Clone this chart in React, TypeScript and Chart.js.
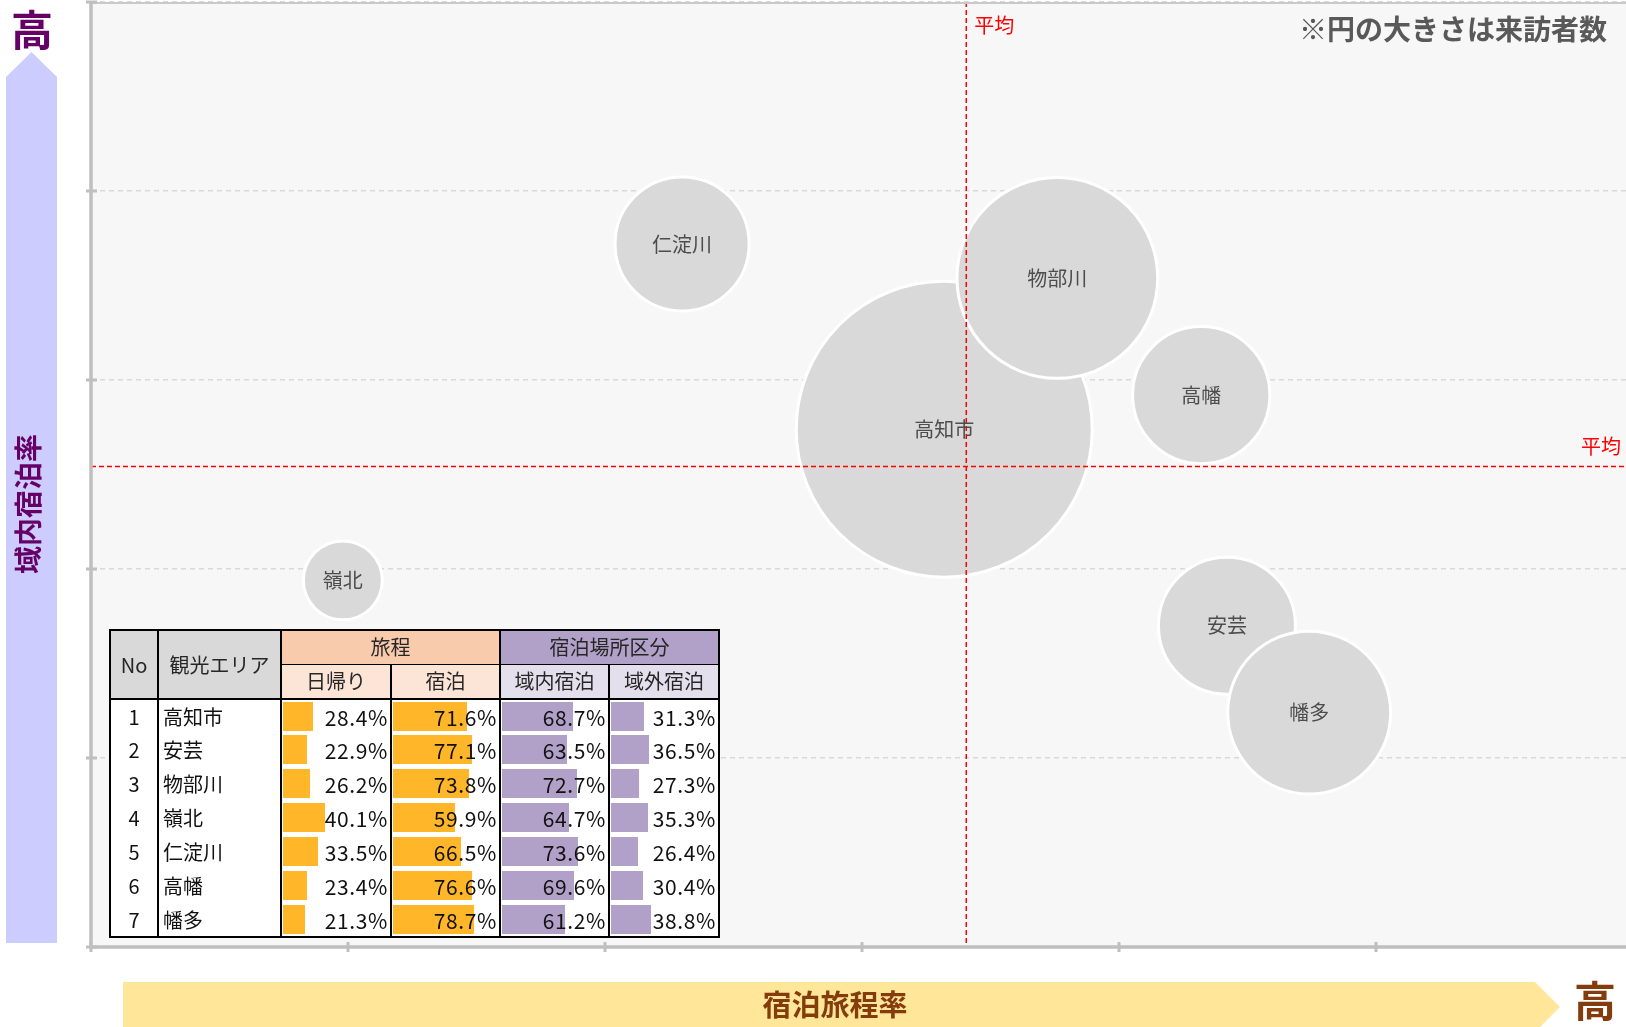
import React, { useEffect, useRef } from "react";
import { Chart, registerables } from "chart.js";

Chart.register(...registerables);

// ---- data ----
const areaNames = ["高知市", "安芸", "物部川", "嶺北", "仁淀川", "高幡", "幡多"];
const dayTripRate = [28.4, 22.9, 26.2, 40.1, 33.5, 23.4, 21.3]; // 日帰り
const stayRate = [71.6, 77.1, 73.8, 59.9, 66.5, 76.6, 78.7]; // 宿泊 (x)
const inAreaStayRate = [68.7, 63.5, 72.7, 64.7, 73.6, 69.6, 61.2]; // 域内宿泊 (y)
const outAreaStayRate = [31.3, 36.5, 27.3, 35.3, 26.4, 30.4, 38.8]; // 域外宿泊
const visitorIndex = [100, 21.4, 46, 7.1, 20.5, 21.5, 30.3]; // 来訪者数 (高知市=100)

const xTicks = [55, 60, 65, 70, 75, 80, 85];
const yTicks = [55, 60, 65, 70, 75, 80];

const FONT = "'Noto Sans CJK JP', 'Noto Sans', sans-serif";
const BUBBLE_SCALE = 14.8;

const mean = (a: number[]) => a.reduce((s, v) => s + v, 0) / a.length;
const avgX = mean(stayRate);
const avgY = mean(inAreaStayRate);

const decorPlugin = {
  id: "decor",
  beforeDraw(chart: any) {
    const { ctx, chartArea: a } = chart;
    ctx.save();
    ctx.fillStyle = "#f7f7f7";
    ctx.fillRect(a.left, a.top, a.right - a.left, a.bottom - a.top);
    ctx.restore();
  },
  afterDatasetsDraw(chart: any) {
    const { ctx, chartArea: a, scales } = chart;
    const x = scales.x;
    const y = scales.y;
    const ax = x.getPixelForValue(avgX);
    const ay = y.getPixelForValue(avgY);
    ctx.save();
    // average lines
    ctx.strokeStyle = "#ff0000";
    ctx.lineWidth = 1.5;
    ctx.setLineDash([5, 3]);
    ctx.beginPath();
    ctx.moveTo(ax, a.top);
    ctx.lineTo(ax, a.bottom - 4);
    ctx.moveTo(a.left, ay);
    ctx.lineTo(a.right, ay);
    ctx.stroke();
    ctx.setLineDash([]);
    // bubble labels
    const meta = chart.getDatasetMeta(0);
    ctx.fillStyle = "#4d4d4d";
    ctx.font = `20px ${FONT}`;
    ctx.textAlign = "center";
    ctx.textBaseline = "middle";
    meta.data.forEach((el: any, i: number) => {
      ctx.fillText(areaNames[i], el.x, el.y);
    });
    // average labels
    ctx.fillStyle = "#ff0000";
    ctx.font = `20px ${FONT}`;
    ctx.textAlign = "left";
    ctx.fillText("平均", ax + 8, a.top + 23);
    ctx.textAlign = "right";
    ctx.fillText("平均", a.right - 12, ay - 20);
    ctx.restore();
  },
  afterDraw(chart: any) {
    const { ctx, chartArea: a, scales } = chart;
    const x = scales.x;
    const y = scales.y;
    ctx.save();
    ctx.strokeStyle = "#c9c9c9";
    ctx.lineWidth = 2;
    ctx.beginPath();
    ctx.moveTo(a.left, a.top + 1);
    ctx.lineTo(a.right, a.top + 1);
    ctx.stroke();
    ctx.strokeStyle = "#bfbfbf";
    ctx.lineWidth = 3.5;
    ctx.beginPath();
    ctx.moveTo(a.left, a.top);
    ctx.lineTo(a.left, a.bottom + 1.5);
    ctx.moveTo(a.left - 1.5, a.bottom);
    ctx.lineTo(a.right, a.bottom);
    ctx.stroke();
    ctx.lineWidth = 3;
    ctx.beginPath();
    yTicks.forEach((v) => {
      const py = y.getPixelForValue(v);
      ctx.moveTo(a.left - 5, py);
      ctx.lineTo(a.left + 6, py);
    });
    xTicks.forEach((v) => {
      const px = x.getPixelForValue(v);
      ctx.moveTo(px, a.bottom - 5);
      ctx.lineTo(px, a.bottom + 5);
    });
    ctx.stroke();
    ctx.restore();
  },
};

const thBase: React.CSSProperties = {
  border: "2px solid #000",
  padding: 0,
  fontWeight: "normal",
  fontSize: 20,
  color: "#262626",
  textAlign: "center",
  verticalAlign: "middle",
  lineHeight: "22px",
};

const tdBase: React.CSSProperties = {
  borderLeft: "2px solid #000",
  borderRight: "2px solid #000",
  borderTop: "none",
  borderBottom: "none",
  padding: 0,
  height: 33,
  fontSize: 20,
  color: "#111",
  verticalAlign: "middle",
  lineHeight: "22px",
  background: "#fff",
};

function BarCell({ v, color }: { v: number; color: string }) {
  return (
    <td style={{ ...tdBase, position: "relative" }}>
      <div
        style={{
          position: "absolute",
          left: 1,
          top: 2,
          height: 29,
          width: `calc((100% - 4px) * ${v / 100})`,
          background: color,
        }}
      />
      <span
        style={{
          position: "relative",
          display: "block",
          textAlign: "right",
          paddingRight: 2,
          fontSize: 21,
          letterSpacing: 0.6,
        }}
      >
        {v.toFixed(1)}%
      </span>
    </td>
  );
}

export default function App() {
  const canvasRef = useRef<HTMLCanvasElement | null>(null);

  useEffect(() => {
    if (!canvasRef.current) return;
    const chart = new Chart(canvasRef.current, {
      type: "bubble",
      data: {
        datasets: [
          {
            label: "来訪者数",
            data: areaNames.map((_, i) => ({
              x: stayRate[i],
              y: inAreaStayRate[i],
              r: BUBBLE_SCALE * Math.sqrt(visitorIndex[i]),
            })),
            backgroundColor: "#d9d9d9",
            borderColor: "#ffffff",
            borderWidth: 3,
            clip: false as any,
          },
        ],
      },
      options: {
        responsive: false,
        animation: false,
        events: [],
        layout: { autoPadding: false, padding: { left: 91, top: 2, right: 7, bottom: 80 } },
        plugins: {
          legend: { display: false },
          tooltip: { enabled: false },
        },
        scales: {
          x: {
            type: "linear",
            min: 55,
            max: 85,
            ticks: { display: false, stepSize: 5 },
            grid: { display: false, drawTicks: false },
            border: { display: false },
            afterFit: (s: any) => {
              s.height = 0;
            },
          },
          y: {
            type: "linear",
            min: 55,
            max: 80,
            ticks: { display: false, stepSize: 5 },
            grid: { color: "#d9d9d9", lineWidth: 1.5, drawTicks: false },
            border: { display: false, dash: [5, 4] },
            afterFit: (s: any) => {
              s.width = 0;
            },
          },
        },
      },
      plugins: [decorPlugin],
    } as any);
    return () => chart.destroy();
  }, []);

  return (
    <div
      style={{
        position: "fixed",
        left: 0,
        top: 0,
        width: 1626,
        height: 1027,
        overflow: "hidden",
        background: "#fff",
        fontFamily: FONT,
      }}
    >
      <canvas
        ref={canvasRef}
        width={1640}
        height={1027}
        style={{ position: "absolute", left: 0, top: 0 }}
      />

      {/* vertical arrow */}
      <div
        style={{
          position: "absolute",
          left: 6,
          top: 52,
          width: 51,
          height: 891,
          background: "#ccccff",
          clipPath: "polygon(50% 0, 100% 25px, 100% 100%, 0 100%, 0 25px)",
        }}
      />
      <div
        style={{
          position: "absolute",
          left: 10,
          top: 6,
          width: 44,
          textAlign: "center",
          fontSize: 42,
          lineHeight: "44px",
          fontWeight: "bold",
          color: "#660066",
        }}
      >
        高
      </div>
      <div
        style={{
          position: "absolute",
          left: 27,
          top: 504,
          transform: "translate(-50%, -50%) rotate(-90deg)",
          whiteSpace: "nowrap",
          fontSize: 28,
          fontWeight: "bold",
          color: "#660066",
          lineHeight: "30px",
        }}
      >
        域内宿泊率
      </div>

      {/* horizontal arrow */}
      <div
        style={{
          position: "absolute",
          left: 123,
          top: 982,
          width: 1437,
          height: 50,
          background: "#ffe699",
          clipPath:
            "polygon(0 0, calc(100% - 25px) 0, 100% 50%, calc(100% - 25px) 100%, 0 100%)",
        }}
      />
      <div
        style={{
          position: "absolute",
          left: 835,
          top: 1003,
          transform: "translate(-50%, -50%)",
          whiteSpace: "nowrap",
          fontSize: 29,
          fontWeight: "bold",
          color: "#843c0c",
          lineHeight: "32px",
        }}
      >
        宿泊旅程率
      </div>
      <div
        style={{
          position: "absolute",
          left: 1595,
          top: 999,
          transform: "translate(-50%, -50%)",
          fontSize: 42,
          fontWeight: "bold",
          color: "#843c0c",
          lineHeight: "44px",
        }}
      >
        高
      </div>

      {/* note */}
      <div
        style={{
          position: "absolute",
          right: 19,
          top: 13,
          fontSize: 28,
          lineHeight: "30px",
          fontWeight: "bold",
          color: "#595959",
          whiteSpace: "nowrap",
        }}
      >
        ※円の大きさは来訪者数
      </div>

      {/* table */}
      <table
        style={{
          position: "absolute",
          left: 109,
          top: 629,
          width: 609,
          borderCollapse: "collapse",
          tableLayout: "fixed",
          border: "2px solid #000",
          fontFamily: FONT,
        }}
      >
        <colgroup>
          <col style={{ width: 48 }} />
          <col style={{ width: 123 }} />
          <col style={{ width: 110 }} />
          <col style={{ width: 109 }} />
          <col style={{ width: 109 }} />
          <col style={{ width: 110 }} />
        </colgroup>
        <thead>
          <tr style={{ height: 34 }}>
            <th rowSpan={2} style={{ ...thBase, background: "#d9d9d9" }}>
              No
            </th>
            <th rowSpan={2} style={{ ...thBase, background: "#d9d9d9" }}>
              観光エリア
            </th>
            <th
              colSpan={2}
              style={{ ...thBase, background: "#f8cbad", borderBottom: "1px solid #000" }}
            >
              旅程
            </th>
            <th
              colSpan={2}
              style={{ ...thBase, background: "#b1a0c7", borderBottom: "1px solid #000" }}
            >
              宿泊場所区分
            </th>
          </tr>
          <tr style={{ height: 35 }}>
            <th style={{ ...thBase, borderTop: "1px solid #000", background: "#fce4d6" }}>日帰り</th>
            <th style={{ ...thBase, borderTop: "1px solid #000", background: "#fce4d6" }}>宿泊</th>
            <th style={{ ...thBase, borderTop: "1px solid #000", background: "#e4dfec" }}>域内宿泊</th>
            <th style={{ ...thBase, borderTop: "1px solid #000", background: "#e4dfec" }}>域外宿泊</th>
          </tr>
        </thead>
        <tbody>
          {areaNames.map((name, i) => (
            <tr key={name} style={{ height: 34 }}>
              <td style={{ ...tdBase, textAlign: "center" }}>{i + 1}</td>
              <td style={{ ...tdBase, textAlign: "left", paddingLeft: 4 }}>{name}</td>
              <BarCell v={dayTripRate[i]} color="#ffb628" />
              <BarCell v={stayRate[i]} color="#ffb628" />
              <BarCell v={inAreaStayRate[i]} color="#b1a0c7" />
              <BarCell v={outAreaStayRate[i]} color="#b1a0c7" />
            </tr>
          ))}
        </tbody>
      </table>
    </div>
  );
}
